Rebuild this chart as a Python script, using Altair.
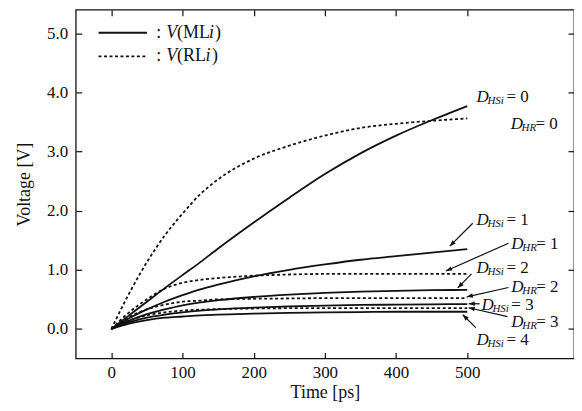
import math
import altair as alt
import pandas as pd

# ---------------- data ----------------
T = [0, 25, 50, 75, 100, 125, 150, 200, 250, 300, 350, 400, 450, 500]

ML0 = [0, 0.23, 0.46, 0.69, 0.91, 1.13, 1.36, 1.80, 2.22, 2.62, 2.97, 3.27, 3.53, 3.77]
ML1 = [0, 0.18, 0.33, 0.46, 0.57, 0.67, 0.75, 0.89, 1.00, 1.09, 1.17, 1.23, 1.29, 1.35]
ML2 = [0, 0.14, 0.25, 0.33, 0.40, 0.45, 0.485, 0.54, 0.58, 0.61, 0.63, 0.645, 0.655, 0.66]
ML3 = [0, 0.11, 0.19, 0.24, 0.28, 0.31, 0.33, 0.36, 0.38, 0.395, 0.405, 0.41, 0.415, 0.42]
ML4 = [0, 0.09, 0.15, 0.19, 0.21, 0.23, 0.24, 0.26, 0.27, 0.28, 0.285, 0.29, 0.29, 0.29]

RL0 = [0, 0.60, 1.13, 1.58, 1.95, 2.28, 2.53, 2.88, 3.10, 3.27, 3.40, 3.47, 3.52, 3.56]
RL1 = [0, 0.28, 0.50, 0.68, 0.78, 0.83, 0.86, 0.90, 0.92, 0.93, 0.93, 0.93, 0.93, 0.93]
RL2 = [0, 0.20, 0.33, 0.41, 0.46, 0.48, 0.50, 0.51, 0.515, 0.52, 0.52, 0.52, 0.52, 0.52]
RL3 = [0, 0.14, 0.23, 0.28, 0.31, 0.325, 0.335, 0.345, 0.35, 0.35, 0.35, 0.35, 0.35, 0.35]

X_TICKS = [0, 100, 200, 300, 400, 500]
Y_TICKS = [0, 1, 2, 3, 4, 5]

# annotation labels  D_{sub} = num
LBL_SUB = ["HSi", "HR", "HSi", "HR", "HSi", "HR", "HSi", "HR", "HSi"]
LBL_NUM = ["0", "0", "1", "1", "2", "2", "3", "3", "4"]
LBL_T = [513, 561, 513, 562, 513, 562, 520, 562, 513]
LBL_V = [3.92, 3.47, 1.84, 1.43, 1.03, 0.71, 0.41, 0.12, -0.18]

# annotation arrows (start -> head)
ARR_T0 = [507.7, 558, 506, 558, 517.5, 556.6, 512]
ARR_V0 = [1.787, 1.45, 0.93, 0.70, 0.425, 0.207, 0.022]
ARR_T1 = [475.5, 470, 486.7, 499.3, 502, 502, 493.7]
ARR_V1 = [1.40, 0.98, 0.694, 0.543, 0.425, 0.358, 0.24]

# legend
LEG_KIND = ["ML", "RL"]
LEG_V = [5.01, 4.61]
LEG_T0 = -18
LEG_T1 = 50
LEG_TXT_T = 63

# ---------------- layout ----------------
X_DOMAIN = [-50, 650]
Y_DOMAIN = [-0.5, 5.4]
W, H = 500, 350
FONT = "Liberation Serif"
INK = "#111111"

xs = alt.Scale(domain=X_DOMAIN, nice=False, zero=False)
ys = alt.Scale(domain=Y_DOMAIN, nice=False, zero=False)

rows = []
for name, vals, kind in [("ML0", ML0, "ML"), ("ML1", ML1, "ML"), ("ML2", ML2, "ML"),
                         ("ML3", ML3, "ML"), ("ML4", ML4, "ML"),
                         ("RL0", RL0, "RL"), ("RL1", RL1, "RL"), ("RL2", RL2, "RL"),
                         ("RL3", RL3, "RL")]:
    for t, v in zip(T, vals):
        rows.append({"series": name, "kind": kind, "t": t, "v": v})
df = pd.DataFrame(rows)

def X(field, axis=None):
    return alt.X(field, type="quantitative", scale=xs, axis=axis)

def Y(field, axis=None):
    return alt.Y(field, type="quantitative", scale=ys, axis=axis)

axis_common = dict(tickSize=6, offset=-6, domain=False, tickColor=INK, tickWidth=1.2,
                   labelFont=FONT, labelFontSize=17, labelColor=INK,
                   titleFont=FONT, titleFontSize=18, titleColor=INK, titleFontWeight="normal",
                   grid=False)

x_bottom = alt.Axis(values=X_TICKS, orient="bottom", labelPadding=6, title="Time [ps]",
                    titlePadding=3, **axis_common)
y_left = alt.Axis(values=Y_TICKS, orient="left", format=".1f", labelPadding=8,
                  title="Voltage [V]", titlePadding=13, **axis_common)
x_top = alt.Axis(values=X_TICKS, orient="top", labels=False, title=None, **axis_common)
y_right = alt.Axis(values=Y_TICKS, orient="right", labels=False, title=None, **axis_common)

solid = alt.Chart(df).transform_filter(alt.datum.kind == "ML").mark_line(
    color=INK, strokeWidth=1.8, interpolate="monotone"
).encode(x=X("t", x_bottom), y=Y("v", y_left), detail="series:N")

dashed = alt.Chart(df).transform_filter(alt.datum.kind == "RL").mark_line(
    color=INK, strokeWidth=1.8, strokeDash=[3, 2.5], interpolate="monotone"
).encode(x=X("t", x_top), y=Y("v", y_right), detail="series:N")

# arrows
sx = W / (X_DOMAIN[1] - X_DOMAIN[0])
sy = H / (Y_DOMAIN[1] - Y_DOMAIN[0])
arr = pd.DataFrame({"t0": ARR_T0, "v0": ARR_V0, "t1": ARR_T1, "v1": ARR_V1})
arr["ang"] = [
    math.degrees(math.atan2((b - a) * sx, (d - c) * sy)) % 360
    for a, b, c, d in zip(ARR_T0, ARR_T1, ARR_V0, ARR_V1)
]
arrow_lines = alt.Chart(arr).mark_rule(color=INK, strokeWidth=1.2).encode(
    x=X("t0"), y=Y("v0"), x2="t1", y2="v1")
arrow_heads = alt.Chart(arr).mark_point(
    shape="M0,0L-0.38,1L0.38,1Z", filled=True, color=INK, size=150, opacity=1
).encode(x=X("t1"), y=Y("v1"), angle=alt.Angle("ang:Q", scale=None))

# annotation labels
lbl = pd.DataFrame({"sub": LBL_SUB, "num": LBL_NUM, "t": LBL_T, "v": LBL_V})
lbl["eq"] = "= " + lbl["num"]

def txt(data, text, dx, dy=0, size=16, style="normal", field=False, flt=None):
    c = alt.Chart(data)
    if flt is not None:
        c = c.transform_filter(flt)
    m = c.mark_text(align="left", baseline="middle", font=FONT, fontSize=size,
                    fontStyle=style, color=INK, dx=dx, dy=dy)
    enc = dict(x=X("t"), y=Y("v"))
    if field:
        enc["text"] = alt.Text(text + ":N")
    else:
        enc["text"] = alt.value(text)
    return m.encode(**enc)

lbl_layers = [
    txt(lbl, "D", 0, size=17, style="italic"),
    txt(lbl, "sub", 11, dy=4, size=11, style="italic", field=True),
    txt(lbl, "eq", 30, size=17, field=True, flt=alt.datum.sub == "HSi"),
    txt(lbl, "eq", 25, size=17, field=True, flt=alt.datum.sub == "HR"),
]

# legend
leg = pd.DataFrame({"kind": LEG_KIND, "v": LEG_V, "ta": LEG_T0, "tb": LEG_T1,
                    "t": LEG_TXT_T})
leg["paren"] = "(" + leg["kind"]
leg_solid = alt.Chart(leg).transform_filter(alt.datum.kind == "ML").mark_rule(
    color=INK, strokeWidth=1.8).encode(x=X("ta"), x2="tb", y=Y("v"))
leg_dash = alt.Chart(leg).transform_filter(alt.datum.kind == "RL").mark_rule(
    color=INK, strokeWidth=1.8, strokeDash=[3, 2.5]).encode(x=X("ta"), x2="tb", y=Y("v"))
is_ml = alt.datum.kind == "ML"
is_rl = alt.datum.kind == "RL"
leg_layers = [
    leg_solid, leg_dash,
    txt(leg, ":", 0, size=18),
    txt(leg, "V", 10, size=18, style="italic"),
    txt(leg, "paren", 21, size=18, field=True),
    txt(leg, "i", 53, size=18, style="italic", flt=is_ml),
    txt(leg, ")", 59, size=18, flt=is_ml),
    txt(leg, "i", 49.5, size=18, style="italic", flt=is_rl),
    txt(leg, ")", 56, size=18, flt=is_rl),
]

chart = alt.layer(
    solid, dashed, arrow_lines, arrow_heads, *lbl_layers, *leg_layers
).resolve_axis(x="independent", y="independent").properties(
    width=W, height=H,
    autosize=alt.AutoSizeParams(type="none"),
    padding={"left": 68, "top": 1, "right": 0, "bottom": 44},
    background="white",
).configure_view(stroke=INK, strokeWidth=1.3)

chart.save("out.html", embed_options={"renderer": "svg", "actions": False})
